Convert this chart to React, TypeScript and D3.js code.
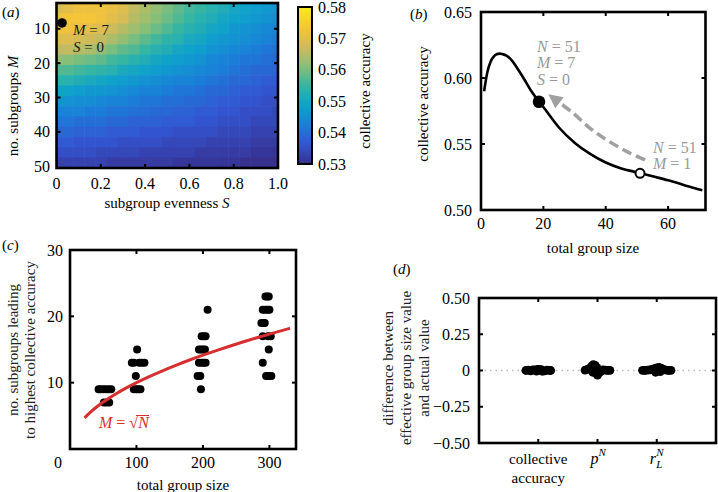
import React from "react";
import * as d3 from "d3";

// ---------- Panel (a) heatmap data ----------
const evennessS = [0, 0.05, 0.1, 0.15, 0.2, 0.25, 0.3, 0.35, 0.4, 0.45, 0.5, 0.55, 0.6, 0.65, 0.7, 0.75, 0.8, 0.85, 0.9, 0.95, 1.0];
const subgroupsM = [4, 7, 10, 13, 16, 19, 22, 25, 28, 31, 34, 37, 40, 43, 46, 49];
const accuracyGrid = [
  [0.568, 0.570, 0.572, 0.572, 0.572, 0.571, 0.569, 0.566, 0.564, 0.562, 0.560, 0.558, 0.556, 0.555, 0.553, 0.552, 0.550, 0.549, 0.548, 0.547, 0.546],
  [0.572, 0.573, 0.573, 0.573, 0.572, 0.570, 0.568, 0.565, 0.563, 0.561, 0.559, 0.557, 0.555, 0.553, 0.552, 0.550, 0.549, 0.548, 0.547, 0.546, 0.545],
  [0.572, 0.572, 0.571, 0.570, 0.569, 0.567, 0.565, 0.563, 0.561, 0.559, 0.557, 0.555, 0.553, 0.552, 0.550, 0.549, 0.547, 0.546, 0.545, 0.544, 0.543],
  [0.569, 0.569, 0.568, 0.567, 0.566, 0.564, 0.562, 0.560, 0.558, 0.556, 0.554, 0.553, 0.551, 0.550, 0.548, 0.547, 0.546, 0.545, 0.544, 0.543, 0.542],
  [0.566, 0.566, 0.565, 0.564, 0.562, 0.560, 0.558, 0.557, 0.555, 0.553, 0.552, 0.550, 0.549, 0.548, 0.546, 0.545, 0.544, 0.543, 0.542, 0.541, 0.540],
  [0.562, 0.561, 0.560, 0.559, 0.558, 0.556, 0.555, 0.553, 0.552, 0.550, 0.549, 0.548, 0.547, 0.546, 0.544, 0.543, 0.542, 0.541, 0.541, 0.540, 0.539],
  [0.557, 0.557, 0.556, 0.555, 0.554, 0.553, 0.551, 0.550, 0.549, 0.548, 0.547, 0.546, 0.545, 0.544, 0.543, 0.542, 0.541, 0.540, 0.539, 0.539, 0.538],
  [0.553, 0.553, 0.552, 0.551, 0.550, 0.549, 0.548, 0.547, 0.546, 0.545, 0.544, 0.543, 0.543, 0.542, 0.541, 0.540, 0.539, 0.539, 0.538, 0.537, 0.537],
  [0.549, 0.549, 0.548, 0.547, 0.547, 0.546, 0.545, 0.544, 0.543, 0.543, 0.542, 0.541, 0.541, 0.540, 0.539, 0.539, 0.538, 0.537, 0.537, 0.536, 0.536],
  [0.546, 0.546, 0.545, 0.545, 0.544, 0.543, 0.543, 0.542, 0.541, 0.541, 0.540, 0.540, 0.539, 0.539, 0.538, 0.537, 0.537, 0.536, 0.536, 0.535, 0.535],
  [0.543, 0.543, 0.543, 0.542, 0.542, 0.541, 0.541, 0.540, 0.540, 0.539, 0.539, 0.538, 0.538, 0.537, 0.537, 0.536, 0.536, 0.535, 0.535, 0.535, 0.534],
  [0.541, 0.541, 0.540, 0.540, 0.540, 0.539, 0.539, 0.538, 0.538, 0.538, 0.537, 0.537, 0.537, 0.536, 0.536, 0.535, 0.535, 0.535, 0.534, 0.534, 0.534],
  [0.539, 0.539, 0.538, 0.538, 0.538, 0.537, 0.537, 0.537, 0.536, 0.536, 0.536, 0.535, 0.535, 0.535, 0.535, 0.534, 0.534, 0.534, 0.533, 0.533, 0.533],
  [0.537, 0.537, 0.536, 0.536, 0.536, 0.536, 0.535, 0.535, 0.535, 0.535, 0.534, 0.534, 0.534, 0.534, 0.533, 0.533, 0.533, 0.533, 0.532, 0.532, 0.532],
  [0.535, 0.535, 0.535, 0.535, 0.534, 0.534, 0.534, 0.534, 0.533, 0.533, 0.533, 0.533, 0.533, 0.532, 0.532, 0.532, 0.532, 0.532, 0.531, 0.531, 0.531],
  [0.533, 0.533, 0.533, 0.533, 0.533, 0.532, 0.532, 0.532, 0.532, 0.532, 0.532, 0.531, 0.531, 0.531, 0.531, 0.531, 0.531, 0.530, 0.530, 0.530, 0.530],
];
const colorbarTicks = [0.53, 0.54, 0.55, 0.56, 0.57, 0.58];
const heatXTicks = [0, 0.2, 0.4, 0.6, 0.8, 1.0];
const heatYTicks = [10, 20, 30, 40, 50];
const optimumS = 0.025;
const optimumM = 8.3;

// ---------- Panel (b) ----------
const groupSizeN = [1, 2, 3, 4, 5, 6, 7, 8, 10, 12, 14, 16, 18, 20, 25, 30, 35, 40, 45, 50, 55, 60, 65, 70, 71];
const accuracyByN = [0.590, 0.604, 0.612, 0.616, 0.618, 0.6185, 0.618, 0.6172, 0.613, 0.606, 0.5985, 0.5905, 0.584, 0.578, 0.5625, 0.551, 0.5425, 0.536, 0.5315, 0.5285, 0.5255, 0.5225, 0.519, 0.5155, 0.515];
const filledPoint = [18.6, 0.582];
const openPoint = [51, 0.5278];
const arrowN = [52.6, 46.8, 40.4, 35, 29.6, 25.6];
const arrowAcc = [0.5379, 0.5442, 0.553, 0.5619, 0.5733, 0.5805];
const arrowTip = [21.6, 0.5877];
const bXTicks = [0, 20, 40, 60];
const bYTicks = [0.5, 0.55, 0.6, 0.65];

// ---------- Panel (c) ----------
const dotN = [
  43, 46, 50, 54, 58, 62, 51, 55, 59,
  101, 93, 96, 104, 108, 112, 99, 96, 100, 103, 106,
  207, 198, 201, 204, 194, 197, 200, 203, 194, 198, 201, 204, 192, 196, 197,
  294, 297, 299, 290, 294, 297, 300, 288, 291, 293, 290, 298, 302, 299, 290, 295, 299, 303,
];
const dotM = [
  9, 9, 9, 9, 9, 9, 7, 7, 7,
  15, 13, 13, 13, 13, 13, 11, 9, 9, 9, 9,
  21, 17, 17, 17, 15, 15, 15, 15, 13, 13, 13, 13, 11, 11, 9,
  23, 23, 23, 21, 21, 21, 21, 19, 19, 19, 17, 17, 17, 15, 13, 11, 11, 11,
];
const sqrtCurveN = [22, 30, 40, 50, 60, 70, 80, 100, 120, 140, 160, 180, 200, 220, 240, 260, 280, 300, 320, 331];
const cXTicks = [100, 200, 300];
const cYTicks = [10, 20, 30];

// ---------- Panel (d) ----------
const categoryPos = [1, 2, 3];
const caOffset = [-0.21, -0.17, -0.13, -0.09, -0.05, -0.01, 0.03, 0.07, 0.11, 0.15, 0.19, 0.21, -0.03, 0.0, 0.05];
const caDiff = [0, 0.003, -0.002, 0.004, 0.005, 0.006, 0.004, -0.005, -0.003, 0.002, 0.001, 0, -0.004, 0.008, 0.006];
const pOffset = [-0.21, -0.17, -0.13, -0.1, -0.07, -0.04, -0.01, 0.02, 0.05, 0.09, 0.13, 0.17, 0.21, -0.08, -0.02, 0.0, 0.03];
const pDiff = [0.002, 0.008, 0.015, 0.03, 0.04, 0.035, 0.02, 0.005, -0.01, 0.004, 0.002, 0, 0.001, -0.012, -0.02, -0.032, -0.01];
const rOffset = [-0.24, -0.2, -0.16, -0.12, -0.08, -0.04, 0, 0.04, 0.08, 0.12, 0.16, 0.2, 0.24, -0.02, 0.06];
const rDiff = [0.001, 0, 0.002, 0.004, 0.008, 0.012, 0.018, 0.022, 0.015, 0.006, 0.002, 0, 0.001, -0.012, -0.008];
const dYTicks = [-0.5, -0.25, 0, 0.25, 0.5];
const dYLabels = ["\u22120.50", "\u22120.25", "0", "0.25", "0.50"];

// ---------- styles ----------
const FONT = "Liberation Serif";
const parulaStops = ["#37308f", "#3356d2", "#1a80d8", "#0ea2cc", "#35b6a2", "#8abf76", "#d4ba58", "#f8c535", "#f5ec20"];

const color = d3
  .scaleLinear<string>()
  .domain(parulaStops.map((_, i) => 0.53 + (0.05 * i) / (parulaStops.length - 1)))
  .range(parulaStops)
  .interpolate(d3.interpolateRgb)
  .clamp(true);

type FrameProps = {
  x0: number; x1: number; y0: number; y1: number;
  xt: number[]; yt: number[];
};
function Frame({ x0, x1, y0, y1, xt, yt }: FrameProps) {
  const L = 4;
  return (
    <g>
      {xt.map((x, i) => (
        <g key={"x" + i}>
          <line x1={x} x2={x} y1={y0} y2={y0 + L} stroke="#000" strokeWidth={2} />
          <line x1={x} x2={x} y1={y1} y2={y1 - L} stroke="#000" strokeWidth={2} />
        </g>
      ))}
      {yt.map((y, i) => (
        <g key={"y" + i}>
          <line x1={x0} x2={x0 + L} y1={y} y2={y} stroke="#000" strokeWidth={2} />
          <line x1={x1} x2={x1 - L} y1={y} y2={y} stroke="#000" strokeWidth={2} />
        </g>
      ))}
      <rect x={x0} y={y0} width={x1 - x0} height={y1 - y0} fill="none" stroke="#000" strokeWidth={2.6} />
    </g>
  );
}

function RotLabel({ x, y, lines, size = 15, gap = 18 }: { x: number; y: number; lines: string[]; size?: number; gap?: number }) {
  return (
    <g>
      {lines.map((l, i) => (
        <text key={i} transform={`translate(${x + i * gap},${y}) rotate(-90)`} textAnchor="middle" fontFamily={FONT} fontSize={size} fill="#222">
          {l}
        </text>
      ))}
    </g>
  );
}

export default function App() {
  // Panel a scales
  const xA = d3.scaleLinear().domain([0, 1]).range([56.5, 278]);
  const yA = d3.scaleLinear().domain([2.5, 50.5]).range([3, 168]);
  const cB = d3.scaleLinear().domain([0.53, 0.58]).range([164, 7]);

  // Panel b
  const xB = d3.scaleLinear().domain([0, 72]).range([481, 705.5]);
  const yB = d3.scaleLinear().domain([0.5, 0.65]).range([210, 12]);
  const lineB = d3
    .line<number>()
    .x((_, i) => xB(groupSizeN[i]))
    .y((d) => yB(d))
    .curve(d3.curveMonotoneX);
  const arrowLine = d3
    .line<number>()
    .x((_, i) => xB(arrowN[i]))
    .y((d) => yB(d))
    .curve(d3.curveCatmullRom);
  const tipX = xB(arrowTip[0]);
  const tipY = yB(arrowTip[1]);
  const baseEndX = xB(arrowN[arrowN.length - 1]);
  const baseEndY = yB(arrowAcc[arrowAcc.length - 1]);
  const dx = tipX - baseEndX;
  const dy = tipY - baseEndY;
  const len = Math.hypot(dx, dy);
  const ux = dx / len, uy = dy / len;
  const headLen = 14, headW = 7;
  const bx = tipX - ux * headLen, by = tipY - uy * headLen;
  const arrowHead = `M${tipX},${tipY} L${bx - uy * headW},${by + ux * headW} L${bx + uy * headW},${by - ux * headW} Z`;

  // Panel c
  const xC = d3.scaleLinear().domain([0, 340]).range([70, 296]);
  const yC = d3.scaleLinear().domain([0, 30]).range([449, 250]);
  const sqrtLine = d3
    .line<number>()
    .x((d) => xC(d))
    .y((d) => yC(Math.sqrt(d)))
    .curve(d3.curveMonotoneX);

  // Panel d
  const xD = d3.scaleLinear().domain([0, 4]).range([479, 716]);
  const yD = d3.scaleLinear().domain([-0.5, 0.5]).range([443, 298]);
  const dGroups = [
    { pos: categoryPos[0], off: caOffset, val: caDiff },
    { pos: categoryPos[1], off: pOffset, val: pDiff },
    { pos: categoryPos[2], off: rOffset, val: rDiff },
  ];

  const cellW = 0.05, cellH = 3;

  return (
    <svg width={718} height={492} style={{ position: "absolute", left: 0, top: 0, background: "#fff" }} fontFamily={FONT}>
      <defs>
        <clipPath id="clipA">
          <rect x={56.5} y={3} width={278 - 56.5} height={168 - 3} />
        </clipPath>
        <linearGradient id="cbar" x1="0" y1="1" x2="0" y2="0">
          {d3.range(0, 1.0001, 0.05).map((t, i) => (
            <stop key={i} offset={t} stopColor={color(0.53 + 0.05 * t)} />
          ))}
        </linearGradient>
      </defs>

      {/* ================= Panel (a) ================= */}
      <text x={2} y={17} fontSize={15}>(<tspan fontStyle="italic">a</tspan>)</text>
      <g clipPath="url(#clipA)">
        {accuracyGrid.map((row, r) =>
          row.map((v, c) => {
            const x0 = xA(evennessS[c] - cellW / 2);
            const x1 = xA(evennessS[c] + cellW / 2);
            const y0 = yA(subgroupsM[r] - cellH / 2);
            const y1 = yA(subgroupsM[r] + cellH / 2);
            return <rect key={r + "-" + c} x={x0} y={y0} width={x1 - x0 + 0.6} height={y1 - y0 + 0.6} fill={color(v)} />;
          })
        )}
      </g>
      <Frame x0={56.5} x1={278} y0={3} y1={168} xt={heatXTicks.slice(1, -1).map(xA)} yt={heatYTicks.slice(0, -1).map(yA)} />
      <circle cx={xA(optimumS)} cy={yA(optimumM)} r={4.8} fill="#000" />
      <text x={73} y={35} fontSize={15} fill="#1a1a1a"><tspan fontStyle="italic">M</tspan> = 7</text>
      <text x={73} y={52} fontSize={15} fill="#1a1a1a"><tspan fontStyle="italic">S</tspan> = 0</text>
      {heatYTicks.map((t) => (
        <text key={t} x={50} y={yA(t) + 5.5} fontSize={16} textAnchor="end">{t}</text>
      ))}
      {heatXTicks.map((t) => (
        <text key={t} x={xA(t)} y={189} fontSize={16} textAnchor="middle">{t === 0 ? "0" : t.toFixed(1)}</text>
      ))}
      <text x={167} y={208} fontSize={15} textAnchor="middle">subgroup evenness <tspan fontStyle="italic">S</tspan></text>
      <text transform="translate(17.5,106) rotate(-90)" fontSize={15} textAnchor="middle">no. subgroups <tspan fontStyle="italic">M</tspan></text>

      {/* colorbar */}
      <rect x={298} y={7} width={14} height={157} fill="url(#cbar)" stroke="#000" strokeWidth={2} />
      {colorbarTicks.map((t) => (
        <text key={t} x={318} y={cB(t) + 5.5} fontSize={16}>{t.toFixed(2)}</text>
      ))}
      <text transform="translate(370,91) rotate(-90)" fontSize={15} textAnchor="middle">collective accuracy</text>

      {/* ================= Panel (b) ================= */}
      <text x={410} y={19} fontSize={15}>(<tspan fontStyle="italic">b</tspan>)</text>
      <path d={lineB(accuracyByN) || ""} fill="none" stroke="#000" strokeWidth={2.6} />
      <path d={arrowLine(arrowAcc) || ""} fill="none" stroke="#a0a0a0" strokeWidth={3.5} strokeDasharray="10,5" />
      <path d={arrowHead} fill="#a0a0a0" />
      <circle cx={xB(filledPoint[0])} cy={yB(filledPoint[1])} r={6.3} fill="#000" />
      <circle cx={xB(openPoint[0])} cy={yB(openPoint[1])} r={4.5} fill="#fff" stroke="#000" strokeWidth={2} />
      <Frame x0={481} x1={705.5} y0={12} y1={210} xt={bXTicks.slice(1).map(xB)} yt={bYTicks.slice(1, -1).map(yB)} />
      <g fill="#999" fontSize={16}>
        <text x={537} y={52}><tspan fontStyle="italic">N</tspan> = 51</text>
        <text x={537} y={68}><tspan fontStyle="italic">M</tspan> = 7</text>
        <text x={537} y={85}><tspan fontStyle="italic">S</tspan> = 0</text>
        <text x={653} y={153}><tspan fontStyle="italic">N</tspan> = 51</text>
        <text x={653} y={169}><tspan fontStyle="italic">M</tspan> = 1</text>
      </g>
      {bYTicks.map((t) => (
        <text key={t} x={472} y={yB(t) + 5.5} fontSize={16} textAnchor="end">{t.toFixed(2)}</text>
      ))}
      {bXTicks.map((t) => (
        <text key={t} x={xB(t)} y={229} fontSize={16} textAnchor="middle">{t}</text>
      ))}
      <text x={593} y={253} fontSize={15} textAnchor="middle">total group size</text>
      <text transform="translate(428,104) rotate(-90)" fontSize={15} textAnchor="middle">collective accuracy</text>

      {/* ================= Panel (c) ================= */}
      <text x={2} y={250} fontSize={15}>(<tspan fontStyle="italic">c</tspan>)</text>
      {dotN.map((n, i) => (
        <circle key={i} cx={xC(n)} cy={yC(dotM[i])} r={4} fill="#000" />
      ))}
      <path d={sqrtLine(sqrtCurveN) || ""} fill="none" stroke="#d62f2f" strokeWidth={3} />
      <Frame x0={70} x1={296} y0={250} y1={449} xt={cXTicks.map(xC)} yt={cYTicks.slice(0, -1).map(yC)} />
      <g fill="#d62f2f" fontSize={16}>
        <text x={99} y={428}>
          <tspan fontStyle="italic">M</tspan> = √<tspan fontStyle="italic">N</tspan>
        </text>
        <line x1={136} x2={149} y1={415.5} y2={415.5} stroke="#d62f2f" strokeWidth={1} />
      </g>
      {cYTicks.map((t) => (
        <text key={t} x={63} y={yC(t) + 5.5} fontSize={16} textAnchor="end">{t}</text>
      ))}
      <text x={58} y={468} fontSize={16} textAnchor="middle">0</text>
      {cXTicks.map((t) => (
        <text key={t} x={xC(t)} y={468} fontSize={16} textAnchor="middle">{t}</text>
      ))}
      <text x={183} y={490} fontSize={15} textAnchor="middle">total group size</text>
      <RotLabel x={18} y={350} lines={["no. subgroups leading", "to highest collective accuracy"]} gap={17} />

      {/* ================= Panel (d) ================= */}
      <text x={393} y={274} fontSize={15}>(<tspan fontStyle="italic">d</tspan>)</text>
      <line x1={xD(0)} x2={xD(4)} y1={yD(0)} y2={yD(0)} stroke="#bbb" strokeWidth={1.5} strokeDasharray="1.5,4" />
      {dGroups.map((g, gi) =>
        g.val.map((v, i) => (
          <circle key={gi + "-" + i} cx={xD(g.pos + g.off[i])} cy={yD(v)} r={4.4} fill="#000" />
        ))
      )}
      <Frame x0={479} x1={716} y0={298} y1={443} xt={categoryPos.map(xD)} yt={dYTicks.slice(1, -1).map(yD)} />
      {dYTicks.map((t, i) => (
        <text key={t} x={470} y={yD(t) + 5.5} fontSize={16} textAnchor="end">{dYLabels[i]}</text>
      ))}
      <text x={xD(1)} y={464} fontSize={15} textAnchor="middle">collective</text>
      <text x={xD(1)} y={483} fontSize={15} textAnchor="middle">accuracy</text>
      <text x={xD(2) - 7} y={464} fontSize={16} fontStyle="italic">p</text>
      <text x={xD(2) + 1} y={456} fontSize={11} fontStyle="italic">N</text>
      <text x={xD(3) - 7} y={464} fontSize={16} fontStyle="italic">r</text>
      <text x={xD(3) - 0.5} y={468} fontSize={11} fontStyle="italic">L</text>
      <text x={xD(3) - 0.5} y={456} fontSize={11} fontStyle="italic">N</text>
      <RotLabel x={393} y={368} lines={["difference between", "effective group size value", "and actual value"]} gap={18} />
    </svg>
  );
}
